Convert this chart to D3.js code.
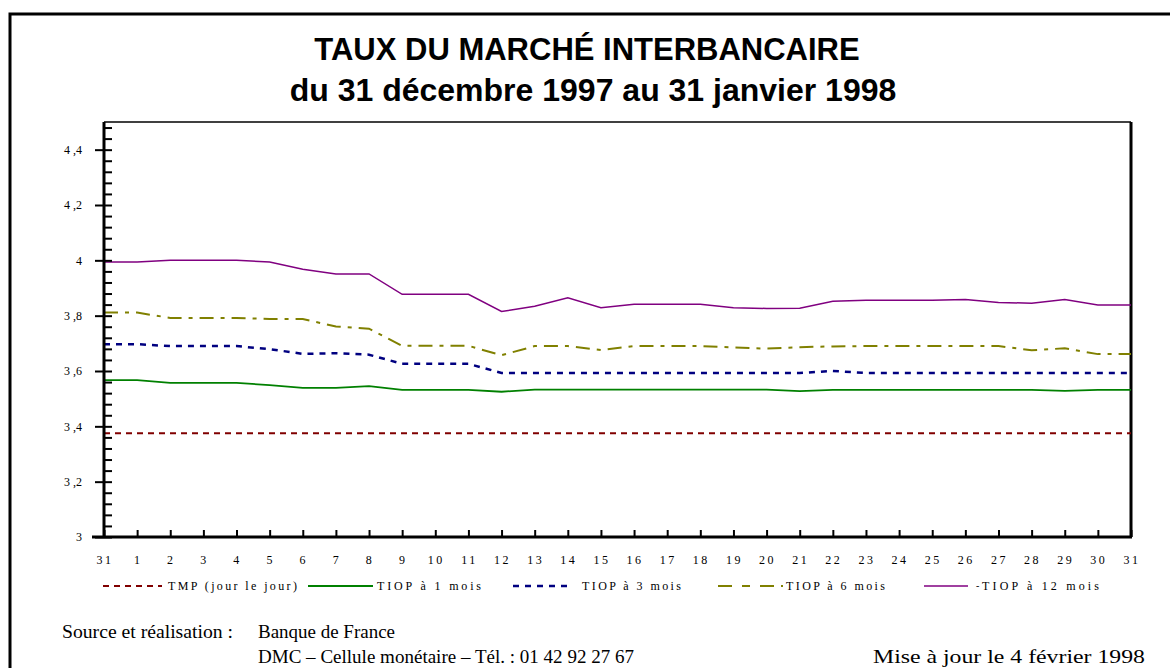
<!DOCTYPE html>
<html lang="fr">
<head>
<meta charset="utf-8">
<script src="https://d3js.org/d3.v7.min.js"></script>
<style>
body { margin: 0; background: #fff; }
svg text { fill: #000; }
</style>
</head>
<body>
<svg width="1170" height="668"></svg>
<script>

// day labels: 31 Dec 1997 then 1..31 Jan 1998
var days = ["31","1","2","3","4","5","6","7","8","9","10","11","12","13","14","15","16","17","18","19","20","21","22","23","24","25","26","27","28","29","30","31"];

var tmp = [3.375,3.375,3.375,3.375,3.375,3.375,3.375,3.375,3.375,3.375,3.375,3.375,3.375,3.375,3.375,3.375,
           3.375,3.375,3.375,3.375,3.375,3.375,3.375,3.375,3.375,3.375,3.375,3.375,3.375,3.375,3.375,3.375];
var tiop1 = [3.567,3.567,3.557,3.557,3.557,3.549,3.539,3.539,3.545,3.532,3.532,3.532,3.525,3.533,3.533,3.533,
             3.533,3.533,3.533,3.533,3.533,3.527,3.532,3.532,3.532,3.532,3.532,3.532,3.532,3.528,3.532,3.532];
var tiop3 = [3.697,3.697,3.690,3.690,3.690,3.679,3.662,3.664,3.659,3.626,3.626,3.626,3.593,3.593,3.593,3.593,
             3.593,3.593,3.593,3.593,3.593,3.593,3.600,3.593,3.593,3.593,3.593,3.593,3.593,3.593,3.593,3.593];
var tiop6 = [3.811,3.811,3.792,3.792,3.792,3.788,3.788,3.761,3.753,3.691,3.691,3.691,3.657,3.690,3.690,3.676,
             3.690,3.690,3.690,3.685,3.681,3.686,3.689,3.690,3.690,3.690,3.690,3.690,3.675,3.682,3.661,3.661];
var tiop12 = [3.994,3.994,4.000,4.000,4.000,3.994,3.968,3.951,3.951,3.877,3.877,3.877,3.815,3.834,3.865,3.829,
              3.841,3.841,3.841,3.829,3.826,3.827,3.852,3.856,3.856,3.856,3.858,3.848,3.845,3.858,3.839,3.839];

var yTicks = [3, 3.2, 3.4, 3.6, 3.8, 4, 4.2, 4.4];

var seriesNames = ["TMP (jour le jour)", "TIOP à 1 mois", "TIOP à 3 mois", "TIOP à 6 mois", "TIOP à 12 mois"];

var series = [
  { name: seriesNames[0], values: tmp,    color: "#800000", width: 2,   dash: "6,5" },
  { name: seriesNames[1], values: tiop1,  color: "#008000", width: 1.8, dash: null },
  { name: seriesNames[2], values: tiop3,  color: "#000080", width: 2.5, dash: "6,6" },
  { name: seriesNames[3], values: tiop6,  color: "#808000", width: 2,   dash: "14,7,4,7" },
  { name: seriesNames[4], values: tiop12, color: "#800080", width: 1.5, dash: null }
];

var svg = d3.select("svg");

// outer frame (runs off the right and bottom)
svg.append("rect")
  .attr("x", 10).attr("y", 14)
  .attr("width", 1200).attr("height", 700)
  .attr("fill", "none").attr("stroke", "#000").attr("stroke-width", 3);

// title
svg.append("text")
  .attr("x", 587).attr("y", 60)
  .attr("text-anchor", "middle")
  .style("font-family", "Liberation Sans, Arial, sans-serif")
  .style("font-weight", "bold").style("font-size", "31px")
  .text("TAUX DU MARCHÉ INTERBANCAIRE");
svg.append("text")
  .attr("x", 593).attr("y", 101)
  .attr("text-anchor", "middle")
  .style("font-family", "Liberation Sans, Arial, sans-serif")
  .style("font-weight", "bold").style("font-size", "32px")
  .text("du 31 décembre 1997 au 31 janvier 1998");

var x = d3.scaleLinear().domain([0, days.length - 1]).range([104, 1131]);
var y = d3.scaleLinear().domain([3, 4.5]).range([537, 122]);

var g = svg.append("g");

// plot box: top and right edges
g.append("line").attr("x1", 104).attr("x2", 1131).attr("y1", y(4.5)).attr("y2", y(4.5))
  .attr("stroke", "#000").attr("stroke-width", 1.5);
g.append("line").attr("x1", 1131).attr("x2", 1131).attr("y1", y(4.5)).attr("y2", y(3))
  .attr("stroke", "#000").attr("stroke-width", 3);

// lines
var line = d3.line()
  .x(function (d, i) { return x(i); })
  .y(function (d) { return y(d); });

series.forEach(function (s) {
  g.append("path")
    .datum(s.values)
    .attr("d", line)
    .attr("fill", "none")
    .attr("stroke", s.color)
    .attr("stroke-width", s.width)
    .attr("stroke-dasharray", s.dash);
});

// y axis: minor ticks then major ticks
var yMinor = d3.range(0, 38).map(function (i) { return 3 + i * 0.04; });
g.append("g")
  .attr("transform", "translate(104,0)")
  .call(d3.axisRight(y).tickValues(yMinor).tickSize(8).tickFormat(""))
  .call(function (a) { a.select(".domain").remove(); a.selectAll("line").attr("stroke-width", 2); });

var yAxis = g.append("g")
  .attr("transform", "translate(104,0)")
  .call(d3.axisLeft(y).tickValues(yTicks).tickSize(9).tickPadding(13)
    .tickFormat(function (d) { return String(+d.toFixed(1)).replace(".", " ,"); }));
yAxis.select(".domain").attr("stroke-width", 3).attr("d", "M0," + y(4.5) + "V" + y(3));
yAxis.selectAll("line").attr("stroke-width", 2);
yAxis.selectAll("text")
  .style("font-family", "Liberation Serif, Times New Roman, serif")
  .style("font-size", "12px")
  .style("white-space", "pre")
  .attr("fill", "#333");

// x axis
var xAxis = g.append("g")
  .attr("transform", "translate(0,537)")
  .call(d3.axisTop(x).tickValues(d3.range(days.length)).tickSize(7).tickFormat(""));
xAxis.select(".domain").attr("stroke-width", 3).attr("d", "M92,0H1132");
xAxis.selectAll("line").attr("stroke-width", 2);

g.selectAll(".xlab")
  .data(days)
  .enter().append("text")
  .attr("class", "xlab")
  .attr("x", function (d, i) { return x(i) + 1; })
  .attr("y", 564)
  .attr("text-anchor", "middle")
  .style("font-family", "Liberation Serif, Times New Roman, serif")
  .style("font-size", "12px")
  .style("letter-spacing", "2.5px")
  .attr("fill", "#333")
  .text(function (d) { return d; });

// legend
var legendPos = [
  { x1: 103, x2: 162, tx: 168, w: 129 },
  { x1: 308, x2: 373, tx: 377, w: 104 },
  { x1: 513, x2: 572, tx: 582, w: 99 },
  { x1: 718, x2: 783, tx: 786, w: 99 },
  { x1: 924, x2: 968, tx: 982, w: 117 }
];
var legend = g.selectAll(".legend")
  .data(series)
  .enter().append("g")
  .attr("class", "legend");

legend.append("line")
  .attr("x1", function (d, i) { return legendPos[i].x1; })
  .attr("x2", function (d, i) { return legendPos[i].x2; })
  .attr("y1", 586).attr("y2", 586)
  .attr("stroke", function (d) { return d.color; })
  .attr("stroke-width", function (d) { return d.width; })
  .attr("stroke-dasharray", function (d) { return d.dash ? d.dash.replace("14,7,4,7", "14,10,8,10,14,7") : null; });

legend.append("text")
  .attr("x", function (d, i) { return legendPos[i].tx; })
  .attr("y", 590)
  .attr("textLength", function (d, i) { return legendPos[i].w; })
  .attr("lengthAdjust", "spacing")
  .style("font-family", "Liberation Serif, Times New Roman, serif")
  .style("font-size", "12px")
  .attr("fill", "#333")
  .text(function (d) { return d.name; });

g.append("text").attr("x", 976).attr("y", 589)
  .style("font-family", "Liberation Serif, serif").style("font-size", "10px")
  .attr("fill", "#888").text("-");

// footer
var foot = svg.append("g")
  .style("font-family", "Liberation Serif, Times New Roman, serif")
  .style("font-size", "18.5px");
foot.append("text").attr("x", 62).attr("y", 638)
  .attr("textLength", 171).attr("lengthAdjust", "spacingAndGlyphs")
  .text("Source et réalisation :");
foot.append("text").attr("x", 258).attr("y", 638)
  .attr("textLength", 137).attr("lengthAdjust", "spacingAndGlyphs")
  .text("Banque de France");
foot.append("text").attr("x", 258).attr("y", 663)
  .attr("textLength", 376).attr("lengthAdjust", "spacingAndGlyphs")
  .text("DMC – Cellule monétaire – Tél. : 01 42 92 27 67");
foot.append("text").attr("x", 873).attr("y", 663)
  .attr("textLength", 272).attr("lengthAdjust", "spacingAndGlyphs")
  .text("Mise à jour le 4 février 1998");

</script>
</body>
</html>
